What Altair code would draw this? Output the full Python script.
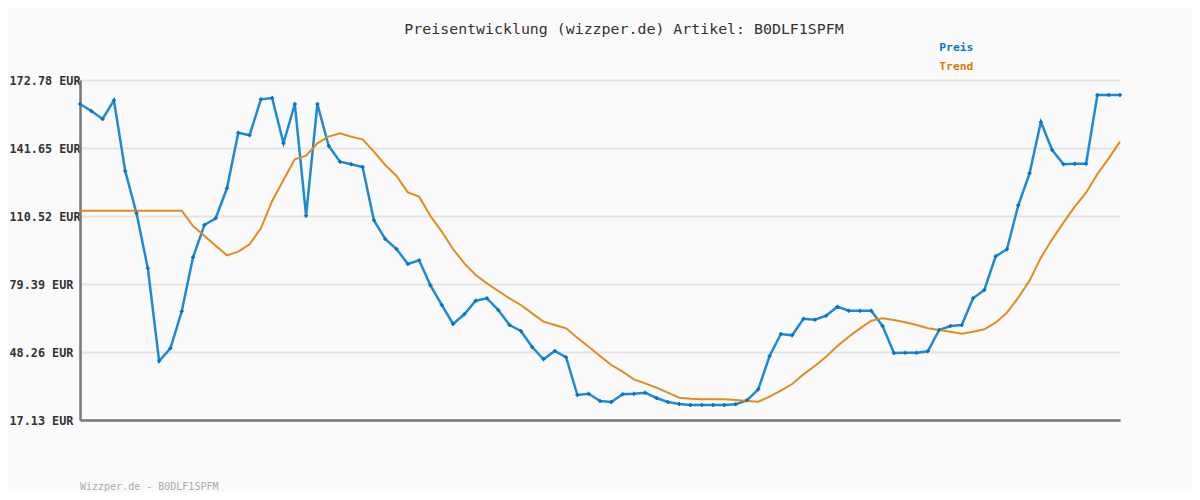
import altair as alt
import pandas as pd

index = list(range(93))

preis = [161.79, 158.59, 154.92, 163.49, 131.12, 111.75, 86.58, 44.14, 49.95, 66.89,
         91.61, 106.40, 109.47, 123.20, 148.65, 147.46, 163.94, 164.54, 143.80, 161.79,
         110.66, 161.79, 142.56, 135.38, 134.19, 132.95, 108.55, 99.99, 95.41, 88.55,
         90.24, 78.79, 69.78, 61.08, 65.52, 71.74, 72.84, 67.49, 60.62, 57.87,
         50.55, 44.92, 48.72, 45.83, 28.57, 29.17, 25.83, 25.37, 28.90, 29.17,
         29.63, 27.20, 25.37, 24.45, 24.00, 24.00, 24.00, 24.00, 24.30, 26.15,
         31.18, 46.43, 56.50, 55.90, 63.50, 63.05, 64.88, 69.00, 67.17, 67.17,
         67.17, 60.16, 47.80, 47.94, 47.94, 48.58, 58.33, 60.16, 60.62, 72.84,
         76.64, 92.07, 95.27, 115.42, 130.07, 153.55, 140.73, 134.19, 134.46, 134.46,
         165.91, 165.91, 165.91]

trend = [112.95, 112.95, 112.95, 112.95, 112.95, 112.95, 112.95, 112.95, 112.95, 112.95,
         105.94, 101.52, 96.94, 92.51, 94.19, 97.55, 104.87, 117.39, 127.00, 136.46,
         138.14, 143.79, 146.84, 148.37, 146.84, 145.62, 139.97, 133.87, 128.83, 121.36,
         119.37, 110.52, 103.35, 95.41, 88.85, 83.51, 79.70, 76.19, 72.83, 69.78,
         65.96, 62.15, 60.62, 59.10, 54.82, 50.70, 46.43, 42.31, 39.26, 35.75,
         33.92, 31.93, 29.64, 27.36, 26.90, 26.59, 26.59, 26.59, 26.29, 25.83,
         25.52, 27.81, 30.56, 33.61, 38.04, 41.85, 46.12, 51.01, 55.28, 59.10,
         62.61, 63.67, 62.91, 61.84, 60.62, 59.10, 58.33, 57.57, 56.65, 57.57,
         58.64, 61.69, 66.27, 73.13, 80.92, 91.45, 99.84, 107.47, 114.79, 121.20,
         129.75, 136.92, 144.55]

y_ticks = [17.13, 48.26, 79.39, 110.52, 141.65, 172.78]
series_names = ["Preis", "Trend"]
series_colors = ["#1f89d6", "#e38b1f"]
title_text = "Preisentwicklung (wizzper.de) Artikel: B0DLF1SPFM"
footer_text = "Wizzper.de - B0DLF1SPFM"

rows = []
for i in index:
    rows.append({"i": i, "serie": "Preis", "wert": preis[i]})
for i in index:
    rows.append({"i": i, "serie": "Trend", "wert": trend[i]})
df = pd.DataFrame(rows)

MONO = "DejaVu Sans Mono"

x_enc = alt.X("i:Q", scale=alt.Scale(domain=[0, 92], nice=False, zero=False),
              axis=alt.Axis(labels=False, ticks=False, grid=False, title=None,
                            domainColor="#777777", domainWidth=2.5))
y_enc = alt.Y("wert:Q", scale=alt.Scale(domain=[17.13, 172.78], nice=False, zero=False),
              axis=alt.Axis(values=y_ticks,
                            labelExpr="format(datum.value, '.2f') + ' EUR'",
                            title=None, ticks=False, domainColor="#777777", domainWidth=2.5,
                            gridColor="#e4e4e4", gridWidth=2,
                            labelFont=MONO, labelFontSize=11.8, labelFontWeight="bold",
                            labelColor="#333333", labelAlign="left", labelBaseline="middle",
                            labelPadding=71, labelBound=False, labelOverlap=False))

lines = alt.Chart(df).mark_line(interpolate="linear").encode(
    x=x_enc,
    y=y_enc,
    color=alt.Color("serie:N",
                    scale=alt.Scale(domain=series_names, range=series_colors),
                    legend=alt.Legend(orient="none", legendX=848, legendY=-38, title=None,
                                      symbolOpacity=0, symbolSize=0, labelOffset=0,
                                      labelFont=MONO, labelFontSize=11.3, labelFontWeight="bold",
                                      labelColor={"expr": "datum.label == 'Preis' ? '#0a78c8' : '#d97a00'"},
                                      rowPadding=7)),
    strokeWidth=alt.StrokeWidth("serie:N",
                                scale=alt.Scale(domain=series_names, range=[2.5, 2]),
                                legend=None),
)

points = alt.Chart(df).transform_filter(alt.datum.serie == "Preis").mark_point(
    shape="cross", filled=True, size=16, color="#0b70c2", opacity=1
).encode(x="i:Q", y="wert:Q")

footer = alt.Chart(pd.DataFrame({"t": [footer_text]})).mark_text(
    align="left", baseline="middle", font=MONO, fontSize=10, color="#aaaaaa"
).encode(x=alt.value(0), y=alt.value(407), text="t:N")

chart = alt.layer(lines, points, footer).properties(
    width=1040, height=340,
    title=alt.TitleParams(title_text, font=MONO, fontSize=14.9, fontWeight="normal",
                          color="#333333", anchor="middle", dx=24, frame="group", offset=5),
    autosize=alt.AutoSizeParams(type="none"),
    padding={"left": 72, "top": 72, "right": 72, "bottom": 72},
    background="#fafafa",
).configure_view(stroke=None)

chart.save("out.html", embed_options={"renderer": "svg", "actions": False})
